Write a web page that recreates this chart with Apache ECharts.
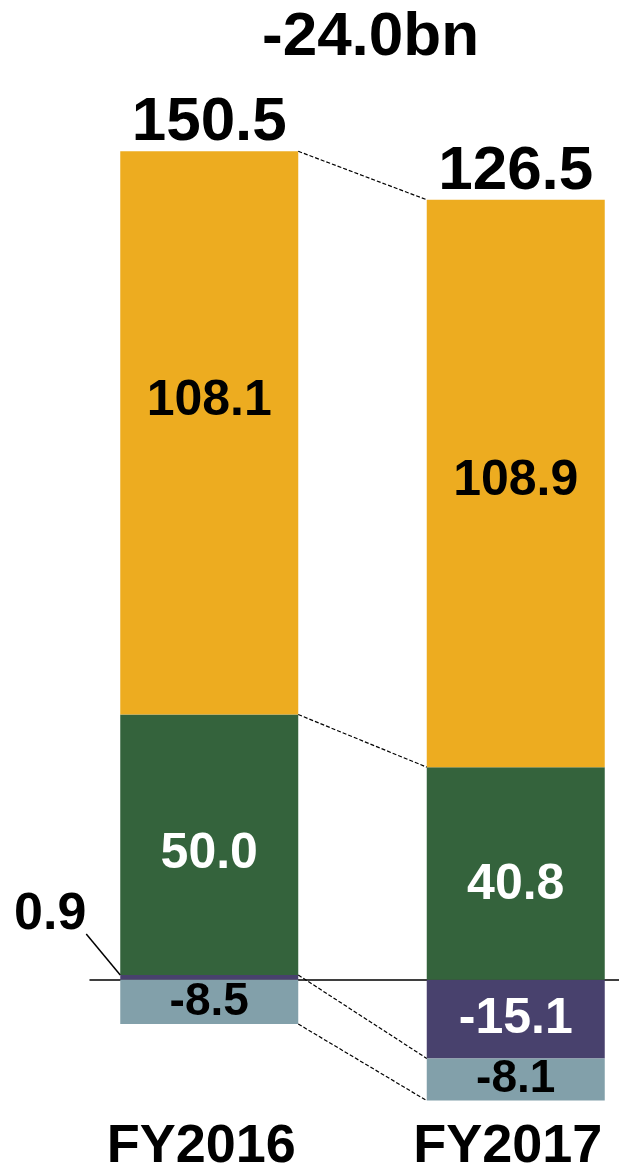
<!DOCTYPE html>
<html>
<head>
<meta charset="utf-8">
<script src="https://cdn.jsdelivr.net/npm/echarts@6/dist/echarts.min.js"></script>
<style>
html,body{margin:0;padding:0;background:#fff;}
#chart{width:619px;height:1169px;}
</style>
</head>
<body>
<div id="chart"></div>
<script>
// ---- data ----
const categories = ['FY2016', 'FY2017'];
const purpleVals = [0.9, -15.1];
const greyVals = [-8.5, -8.1];
const greenVals = [50.0, 40.8];
const orangeVals = [108.1, 108.9];
const totals = [150.5, 126.5];

// ---- layout / style ----
const FONT = '"Liberation Sans", Arial, sans-serif';
const BAR_W = 178;
const Y_MIN = -25, Y_MAX = 170;
const GRID_TOP = 94, GRID_H = 1016;
const COLORS = { purple: '#48416d', grey: '#82a0aa', green: '#34633c', orange: '#edac20' };

// stack levels computed from data
const posSum = categories.map((_, i) =>
  [purpleVals[i], greyVals[i], greenVals[i], orangeVals[i]].filter(v => v > 0).reduce((a, b) => a + b, 0));
const negSum = categories.map((_, i) =>
  [purpleVals[i], greyVals[i], greenVals[i], orangeVals[i]].filter(v => v < 0).reduce((a, b) => a + b, 0));
const connectors = [
  [0, posSum[0], 1, posSum[1]],
  [0, posSum[0] - orangeVals[0], 1, posSum[1] - orangeVals[1]],
  [0, purpleVals[0], 1, purpleVals[1]],
  [0, negSum[0], 1, negSum[1]]
];
const diff = (totals[1] - totals[0]).toFixed(1) + 'bn';

function items(vals, offsets, hide) {
  return vals.map((v, i) => ({
    value: v,
    label: { offset: offsets ? offsets[i] : [0, 0], show: !(hide && hide[i]) }
  }));
}
function lab(color, size) {
  return { show: true, position: 'inside', color: color, fontSize: size, fontWeight: 'bold', fontFamily: FONT,
           formatter: p => Number(p.value).toFixed(1) };
}

const chart = echarts.init(document.getElementById('chart'), null, { renderer: 'canvas' });
chart.setOption({
  animation: false,
  backgroundColor: '#ffffff',
  title: {
    text: diff, left: 257, top: 2,
    textStyle: { fontSize: 62, fontWeight: 'bold', fontFamily: FONT, color: '#000' }
  },
  grid: [
    { left: 56, width: 613, top: GRID_TOP, height: GRID_H, outerBoundsMode: 'none', containLabel: false },
    { left: 90, width: 529, top: GRID_TOP, height: GRID_H, outerBoundsMode: 'none', containLabel: false }
  ],
  xAxis: [
    {
      type: 'category', gridIndex: 0, data: categories,
      axisLine: { show: false }, axisTick: { show: false },
      axisLabel: { margin: 10, fontSize: 54, fontWeight: 'bold', fontFamily: FONT, color: '#000', padding: [0, 16, 0, 0] }
    },
    {
      type: 'category', gridIndex: 1, data: categories,
      axisLine: { show: true, onZero: true, lineStyle: { color: '#000', width: 1.5 } },
      axisTick: { show: false }, axisLabel: { show: false }
    }
  ],
  yAxis: [
    { type: 'value', gridIndex: 0, min: Y_MIN, max: Y_MAX, show: false },
    { type: 'value', gridIndex: 1, min: Y_MIN, max: Y_MAX, show: false }
  ],
  series: [
    {
      name: 'purple', type: 'bar', stack: 's', barWidth: BAR_W,
      itemStyle: { color: COLORS.purple },
      label: lab('#fff', 50),
      data: items(purpleVals, null, [true, false])
    },
    {
      name: 'grey', type: 'bar', stack: 's', barWidth: BAR_W,
      itemStyle: { color: COLORS.grey },
      label: lab('#000', 46),
      data: items(greyVals)
    },
    {
      name: 'green', type: 'bar', stack: 's', barWidth: BAR_W,
      itemStyle: { color: COLORS.green },
      label: lab('#fff', 50),
      data: items(greenVals, [[0, 9], [0, 12]])
    },
    {
      name: 'orange', type: 'bar', stack: 's', barWidth: BAR_W,
      itemStyle: { color: COLORS.orange },
      label: lab('#000', 50),
      data: items(orangeVals, [[0, -32], [0, -2]])
    },
    {
      name: 'totals', type: 'bar', stack: 's', barWidth: BAR_W,
      data: categories.map(() => 0),
      itemStyle: { color: 'transparent' },
      label: {
        show: true, position: 'top', distance: -3,
        formatter: p => totals[p.dataIndex].toFixed(1),
        fontSize: 62, fontWeight: 'bold', fontFamily: FONT, color: '#000'
      }
    },
    {
      name: 'connectors', type: 'custom', silent: true, clip: false, z: 5,
      encode: { x: 0, y: 1 },
      data: connectors,
      renderItem: function (params, api) {
        const p1 = api.coord([api.value(0), api.value(1)]);
        const p2 = api.coord([api.value(2), api.value(3)]);
        return {
          type: 'line',
          shape: { x1: p1[0] + BAR_W / 2, y1: p1[1], x2: p2[0] - BAR_W / 2, y2: p2[1] },
          style: { stroke: '#000', lineWidth: 1.2, lineDash: [4, 2] }
        };
      }
    },
    {
      name: 'leader', type: 'custom', silent: true, clip: false, z: 5,
      encode: { x: 0, y: 1 },
      data: [[0, purpleVals[0]]],
      renderItem: function (params, api) {
        const p = api.coord([api.value(0), api.value(1)]);
        const x0 = p[0] - BAR_W / 2, y0 = p[1];
        return {
          type: 'group',
          children: [
            { type: 'line', shape: { x1: x0, y1: y0, x2: x0 - 34, y2: y0 - 41 },
              style: { stroke: '#000', lineWidth: 1.5 } },
            { type: 'text', x: x0 - 70, y: y0 - 60,
              style: { text: api.value(1).toFixed(1), fill: '#000', fontSize: 52, fontWeight: 'bold',
                       fontFamily: FONT, align: 'center', verticalAlign: 'middle' } }
          ]
        };
      }
    }
  ]
});
</script>
</body>
</html>
